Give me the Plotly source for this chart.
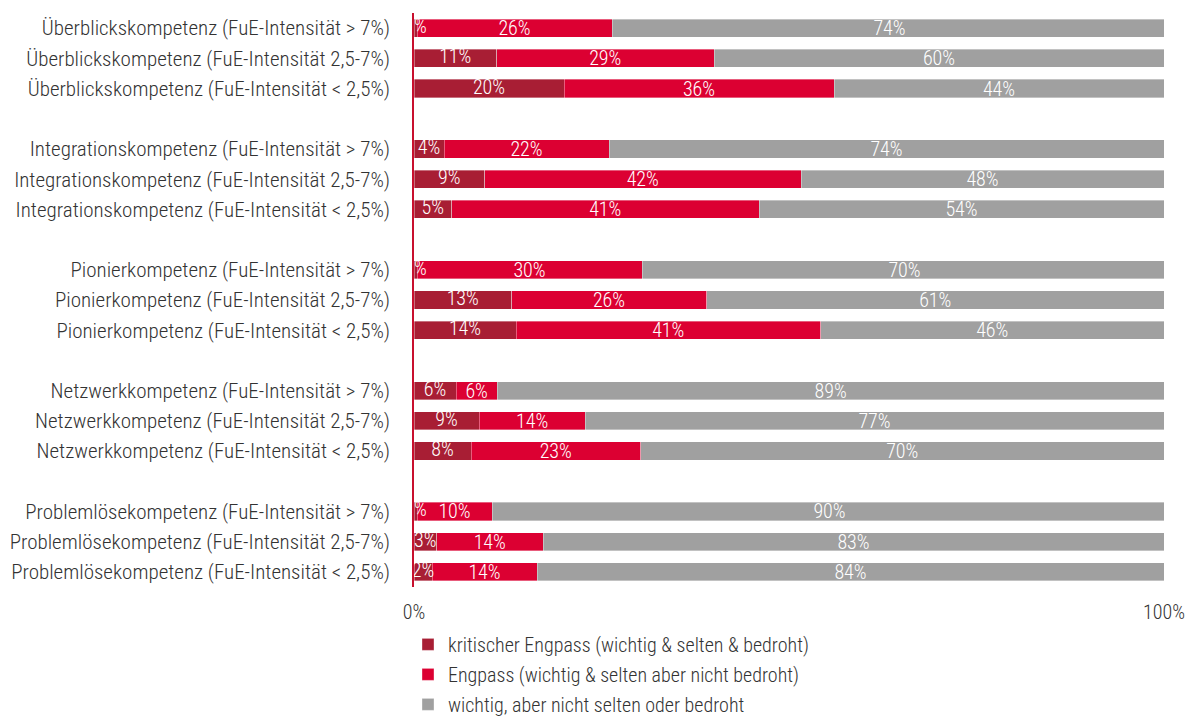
import plotly.graph_objects as go

competences = ["Überblickskompetenz", "Integrationskompetenz", "Pionierkompetenz",
               "Netzwerkkompetenz", "Problemlösekompetenz"]
intensities = ["(FuE-Intensität > 7%)", "(FuE-Intensität 2,5-7%)", "(FuE-Intensität < 2,5%)"]

# values in %, row order as in the chart (top to bottom)
kritisch = [0.4, 11, 20,   4, 9.4, 5,   0.4, 13, 13.6,   5.6, 8.7, 7.6,   0.4, 3, 2.4]
engpass  = [26, 29, 36,   22, 42.2, 41,   30, 26, 40.6,   5.5, 14.1, 22.6,   10, 14.2, 14]
wichtig  = [74, 60, 44,   74, 48.4, 54,   70, 61, 45.8,   88.9, 77.2, 69.8,   90, 82.8, 83.6]

series_names = ["kritischer Engpass (wichtig & selten & bedroht)",
                "Engpass (wichtig & selten aber nicht bedroht)",
                "wichtig, aber nicht selten oder bedroht"]
colors = ["#A81E34", "#DC0032", "#A0A0A0"]

xtick_vals = [0, 100]
xtick_text = ["0%", "100%"]

FONT = "Roboto Condensed, Roboto, sans-serif"
FS = 20

labels = []
for c in competences:
    for i in intensities:
        labels.append(f"{c} {i}")
cat_order = []
for gi, c in enumerate(competences):
    for i in intensities:
        cat_order.append(f"{c} {i}")
    if gi < len(competences) - 1:
        cat_order.append(" " * (gi + 1))

fig = go.Figure()
for k, (name, vals, col) in enumerate(zip(series_names, [kritisch, engpass, wichtig], colors)):
    if k > 0:
        bar_kw = dict(texttemplate="%{x:.0f}%", textposition="inside",
                      insidetextanchor="middle", textangle=0,
                      textfont=dict(color="white", size=FS, family=FONT, weight=300))
    else:
        bar_kw = dict(textposition="none")
    fig.add_trace(go.Bar(
        y=labels, x=vals, name=name, orientation="h",
        marker=dict(color=col, line=dict(color="rgba(255,255,255,0.6)", width=0.6)),
        cliponaxis=True, legendgroup=name, width=0.6, **bar_kw,
    ))

# labels of the first (dark red) segment, centred on the segment and clipped at the axis
fig.add_trace(go.Scatter(
    y=labels, x=[v / 2 for v in kritisch], mode="text",
    text=[f"{round(v)}%" for v in kritisch],
    textposition="middle center",
    textfont=dict(color="white", size=FS, family=FONT, weight=300),
    cliponaxis=True, showlegend=False, hoverinfo="skip",
))

fig.update_layout(
    barmode="stack",
    width=1187, height=708,
    margin=dict(l=406, r=31, t=5, b=129, autoexpand=False),
    paper_bgcolor="white", plot_bgcolor="white",
    font=dict(family=FONT, size=FS, color="#333333", weight=300),
    uniformtext=dict(minsize=FS, mode="show"),
    showlegend=True,
    legend=dict(orientation="v", x=-0.008, xanchor="left", y=-0.066, yanchor="top",
                traceorder="grouped", tracegroupgap=1,
                font=dict(size=FS, color="#333333", family=FONT, weight=300),
                bgcolor="rgba(0,0,0,0)"),
)
fig.update_xaxes(range=[0, 100], tickvals=xtick_vals, ticktext=xtick_text,
                 showgrid=False, zeroline=False, showline=False, ticks="",
                 ticklabelstandoff=11,
                 tickfont=dict(size=FS, color="#333333", family=FONT, weight=300))
fig.update_yaxes(type="category", categoryorder="array", categoryarray=cat_order,
                 range=[len(cat_order) - 0.5, -0.5], autorange=False,
                 showgrid=False, showline=True,
                 linecolor="#C8102E", linewidth=1.5, ticks="", ticklabelstandoff=18,
                 tickfont=dict(size=21, color="#333333", family=FONT, weight=300))

fig.write_html("out.html")
